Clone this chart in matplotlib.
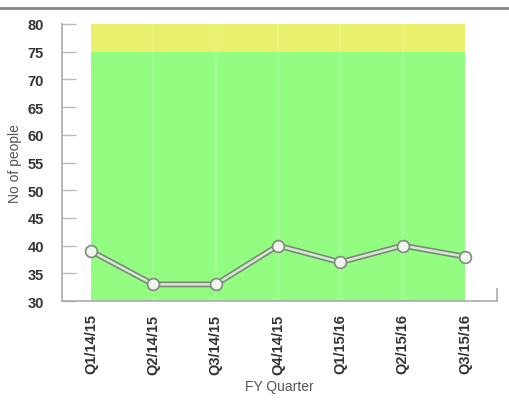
import matplotlib
matplotlib.use("Agg")
import matplotlib.pyplot as plt
from matplotlib.lines import Line2D

quarters = ["Q1/14/15", "Q2/14/15", "Q3/14/15", "Q4/14/15", "Q1/15/16", "Q2/15/16", "Q3/15/16"]
people = [39, 33, 33, 40, 37, 40, 38]
green_band = (30, 75)
yellow_band = (75, 80)
y_ticks = [30, 35, 40, 45, 50, 55, 60, 65, 70, 75, 80]

plt.rcParams["font.family"] = ["Liberation Sans", "DejaVu Sans"]

fig = plt.figure(figsize=(5.09, 4.14), dpi=100)
ax = fig.add_axes([62 / 509, 1 - 302 / 414, (497 - 62) / 509, (302 - 25) / 414])

x = list(range(len(quarters)))
n = len(quarters) - 1

# threshold bands spanning the quarters
ax.fill_between([0, n], green_band[0], green_band[1], color="#92fd80", lw=0, zorder=1)
ax.fill_between([0, n], yellow_band[0], yellow_band[1], color="#e9f06c", lw=0, zorder=1)
for xi in x[1:-1]:
    ax.plot([xi, xi], [green_band[0], yellow_band[1]], color="white", alpha=0.18, lw=1.2, zorder=2)

# outlined line with hollow markers
ax.plot(x, people, color="#7a8a78", lw=4.2, solid_capstyle="round", zorder=3)
ax.plot(x, people, color="#d8e8d4", lw=1.8, solid_capstyle="round", zorder=4)
ax.plot(x, people, ls="none", marker="o", ms=8.5, mfc="#f2f4f0", mec="#7f8a7c", mew=1.2, zorder=5)

ax.set_xlim(-29 / 62.33, n + 32 / 62.33)
ax.set_ylim(30, 80)
ax.set_yticks(y_ticks)
ax.set_xticks(x)
ax.set_xticklabels(quarters, rotation=90, fontsize=10.5, fontweight="bold", color="#333333")
ax.set_yticklabels([str(v) for v in y_ticks], fontsize=10.5, fontweight="bold", color="#333333")
ax.tick_params(axis="y", direction="in", length=10, width=1, color="#bbbbbb", pad=13)
ax.tick_params(axis="x", length=0, pad=9)

for side in ("top", "right"):
    ax.spines[side].set_visible(False)
for side in ("left", "bottom"):
    ax.spines[side].set_color("#aaaaaa")
    ax.spines[side].set_linewidth(1.2)
ax.add_line(Line2D([1, 1], [0, 12 / 277], transform=ax.transAxes, color="#aaaaaa", lw=1.2, clip_on=False))

ax.set_ylabel("No of people", fontsize=10, color="#555555", labelpad=4)
ax.set_xlabel("FY Quarter", fontsize=10, color="#555555", labelpad=4)

# frame rule across the top
fig.add_artist(Line2D([0, 1], [1 - 9 / 414, 1 - 9 / 414], transform=fig.transFigure, color="#888888", lw=2))

fig.savefig("out.png", dpi=100)
